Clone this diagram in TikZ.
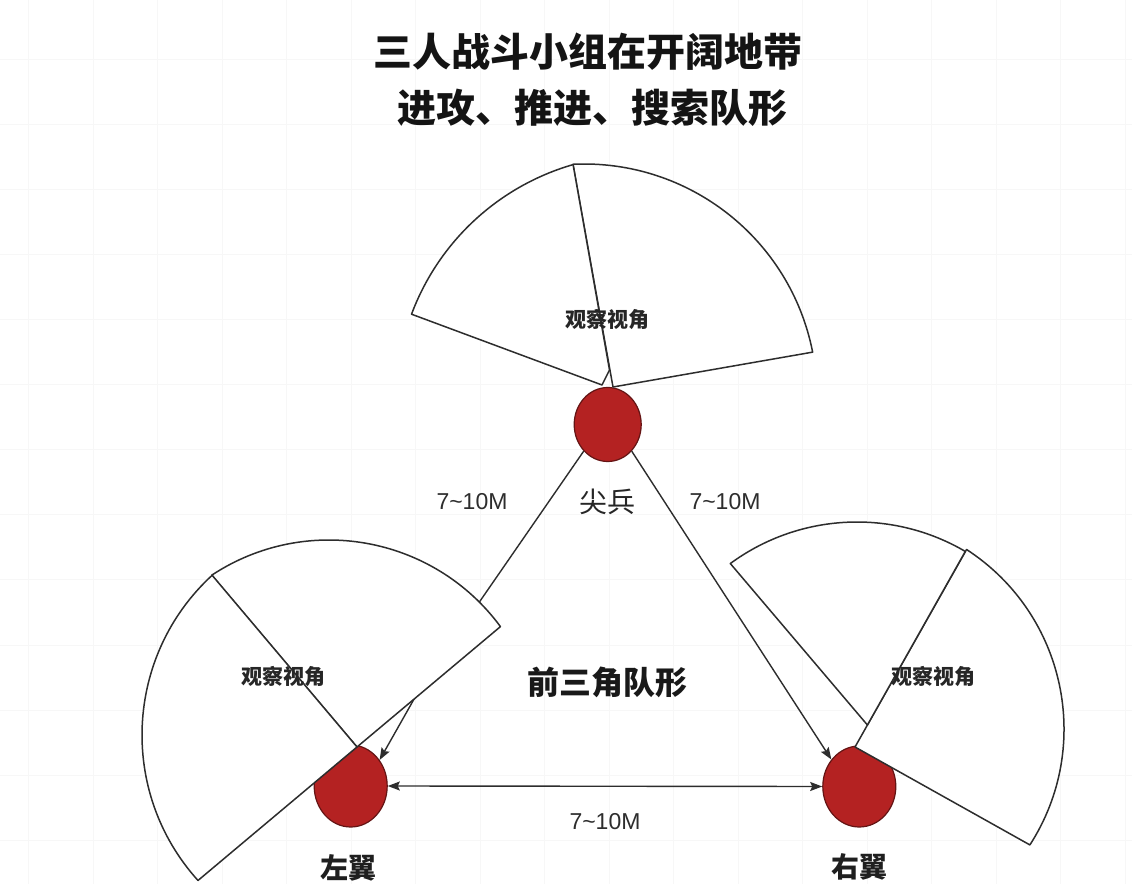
\documentclass[tikz,border=0pt]{standalone}
\usepackage{fontspec}
\newfontfamily\cjk{Noto Sans CJK SC}
\newfontfamily\lat{Liberation Sans}
\usetikzlibrary{calc,arrows.meta,shapes.geometric}
\definecolor{dotred}{RGB}{180,34,34}
\definecolor{dotedge}{RGB}{100,20,20}
\definecolor{ink}{RGB}{45,45,45}
\begin{document}
\begin{tikzpicture}[x=1pt,y=1pt,
  >={Stealth[length=12pt,width=9pt,inset=2pt]},
  wedge/.style={draw=ink, fill=white, line width=1.5pt, line join=round},
  dot/.style={ellipse, draw=dotedge, fill=dotred, line width=1.2pt, inner sep=0pt},
  conn/.style={draw=ink, line width=1.4pt},
  titletext/.style={font=\cjk\bfseries\fontsize{39}{44}\selectfont, text=black!92},
  viewtext/.style={font=\cjk\bfseries\fontsize{21}{24}\selectfont, text=black!85},
  roletext/.style={font=\cjk\bfseries\fontsize{28}{32}\selectfont, text=black!88},
  roletextlight/.style={font=\cjk\fontsize{28}{32}\selectfont, text=black!85},
  formtext/.style={font=\cjk\bfseries\fontsize{32}{36}\selectfont, text=black!90},
  disttext/.style={font=\lat\fontsize{23}{26}\selectfont, text=ink},
  gridline/.style={draw=black!3, line width=1pt}]
\useasboundingbox (0,0) rectangle (1132,884);
\fill[white] (0,0) rectangle (1132,884);
% faint background grid
\foreach \gx in {28.5,93,157.5,222,286.5,351,415.5,480,544.5,609,673.5,738,802.5,867,931.5,996,1060.5,1125}
  \draw[gridline] (\gx,0) -- (\gx,884);
\foreach \gy in {44,109,174,239,304,369,434,499,564,629,694,759,824}
  \draw[gridline] (0,\gy) -- (1132,\gy);

% soldiers
\node[dot, minimum width=67pt, minimum height=74pt] (T) at (607.7,459.5) {};
\node[dot, minimum width=73pt, minimum height=82pt] (L) at (350.7,98) {};
\node[dot, minimum width=73pt, minimum height=81pt] (R) at (859.3,97.5) {};

% connectors
\coordinate (bend) at (422,199);
\draw[conn,->] (T.-132) -- (bend) -- (L.42);
\draw[conn,->] (T.-48) -- (R.136);
\draw[conn,<->] (L.east) -- (R.west);

% fields of view
\draw[wedge] (613,497) -- ($(584,487)+(92.7:233pt)$) arc[start angle=92.7,end angle=11.1,radius=233pt] -- cycle;
\draw[wedge] (602,499) -- ($(641,484)+(159.5:245pt)$) arc[start angle=159.5,end angle=106.1,radius=245pt] -- (609.5,514) -- cycle;
\draw[wedge] (357,137) -- ($(329,131)+(36.4:213pt)$) arc[start angle=36.4,end angle=123.4,radius=213pt] -- cycle;
\draw[wedge] (357,137) -- ($(359,149)+(132.6:217pt)$) arc[start angle=132.6,end angle=222.1,radius=217pt] -- cycle;
\draw[wedge] (855,137) -- ($(850,155)+(57:214pt)$) arc[start angle=57,end angle=-32.8,radius=214pt] -- cycle;
\draw[wedge] (867.4,159) -- ($(857,148)+(126.3:214pt)$) arc[start angle=126.3,end angle=59.6,radius=214pt] -- cycle;

% texts
\node[titletext] (title1) at (588,832) {三人战斗小组在开阔地带};
\node[titletext] (title2) at (592,776) {进攻、推进、搜索队形};
\node[viewtext] (vT) at (607,564) {观察视角};
\node[viewtext] (vL) at (283,207) {观察视角};
\node[viewtext] (vR) at (933,207) {观察视角};
\node[roletextlight] (nT) at (607.5,382) {尖兵};
\node[roletext] (nL) at (348,16) {左翼};
\node[roletext] (nR) at (859,17) {右翼};
\node[formtext] (form) at (607,202) {前三角队形};
\node[disttext] (d1) at (472,382) {7\textasciitilde10M};
\node[disttext] (d2) at (725,382) {7\textasciitilde10M};
\node[disttext] (d3) at (605,62) {7\textasciitilde10M};
\end{tikzpicture}
\end{document}
